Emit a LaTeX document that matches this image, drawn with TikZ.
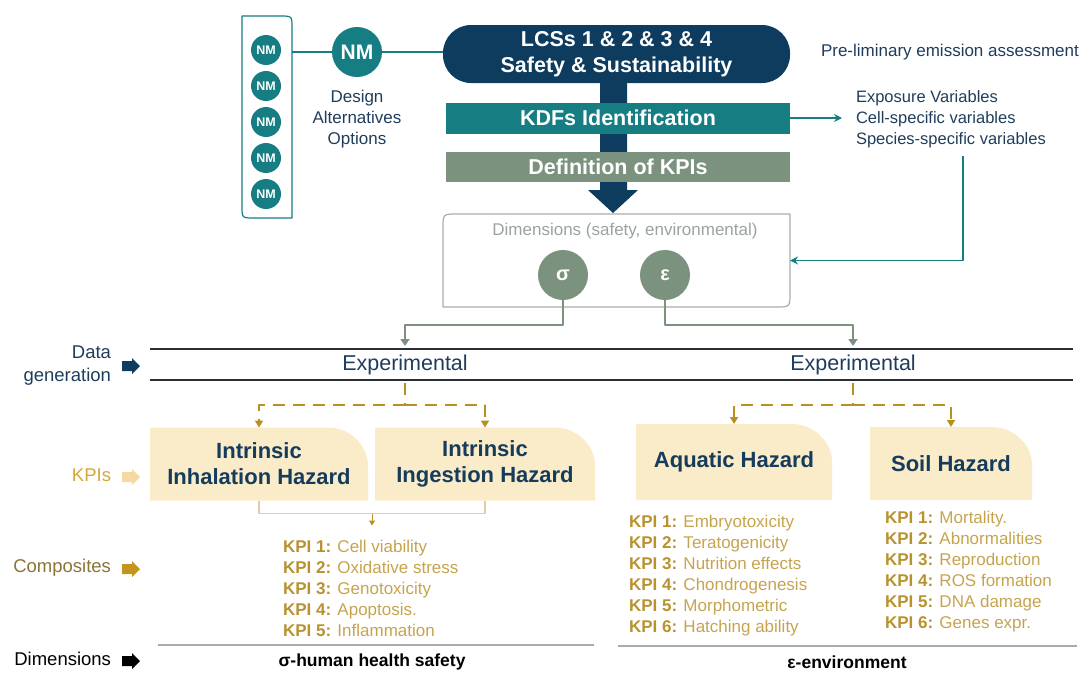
\documentclass[tikz,border=0pt]{standalone}
\usepackage{fontspec}
\setmainfont{Liberation Sans}
\usetikzlibrary{arrows.meta,backgrounds,calc}
\definecolor{navy}{HTML}{0E3C5E}
\definecolor{teal2}{HTML}{167D82}
\definecolor{sage}{HTML}{7B927F}
\definecolor{txt}{HTML}{1F3D5B}
\definecolor{haztxt}{HTML}{163C5C}
\definecolor{beige}{HTML}{FAEBC9}
\definecolor{gold}{HTML}{B8901F}
\definecolor{kpib}{HTML}{B8922F}
\definecolor{kpil}{HTML}{C6A44E}
\definecolor{linebeige}{HTML}{E2CCA8}
\definecolor{dimgrey}{HTML}{9AA39D}
\definecolor{dimline}{HTML}{A7AFA9}
\definecolor{olive}{HTML}{8A7436}
\definecolor{kpilabel}{HTML}{D2A838}
\definecolor{kpiarrow}{HTML}{F6D9A2}
\definecolor{comparrow}{HTML}{C4951C}
\definecolor{darkline}{HTML}{2B2F33}
\definecolor{greyline}{HTML}{ABABAB}
\newcommand\kp[1]{{\bfseries\color{kpib}KPI #1:}}
\newcommand\blockarrow[3]{\fill[#1] (#2,#3) ++(0,-5) -- ++(10,0) -- ++(0,-3) -- ++(8,8) -- ++(-8,8) -- ++(0,-3) -- ++(-10,0) -- cycle;}
\tikzset{
  base/.style={inner sep=0pt, outer sep=0pt},
  nmsmall/.style={circle, fill=teal2, minimum size=30pt, inner sep=0pt, text=white, font=\fontsize{12.5}{14}\selectfont\bfseries},
  bar/.style={base, minimum width=344pt, text=white, font=\fontsize{21.5}{26}\selectfont\bfseries},
  haz/.style={base, text=haztxt, align=center, font=\fontsize{22}{26}\selectfont\bfseries},
  kpis/.style={base, anchor=west, align=left, text=kpil, font=\fontsize{17}{21}\selectfont},
  lbl/.style={base, anchor=east, align=right, font=\fontsize{18.5}{23}\selectfont},
  sagearrow/.style={draw=sage, line width=2.5pt, -{Triangle[width=9pt,length=7pt]}},
  gdash/.style={draw=gold, line width=2.2pt, dash pattern=on 12pt off 8pt},
  gtip/.style={-{Triangle[width=8pt,length=7pt]}},
  tealline/.style={draw=teal2, line width=1.8pt},
}
\begin{document}
\begin{tikzpicture}[x=1pt,y=-1pt,line join=round]
\useasboundingbox (0,0) rectangle (1089,673);

% NM options box
\node[base, minimum width=50pt, minimum height=202pt] (nmbox) at (267,117) {};
\draw[teal2, line width=1.2pt] (nmbox.north west) -- ($(nmbox.north east)+(-12,0)$) .. controls (nmbox.north east) .. ($(nmbox.north east)+(0,12)$) -- (nmbox.south east) -- ($(nmbox.south west)+(12,0)$) .. controls (nmbox.south west) .. ($(nmbox.south west)+(0,-12)$) -- cycle;
\node[nmsmall] (nm1) at (266,50) {NM};
\node[nmsmall] (nm2) at (266,86) {NM};
\node[nmsmall] (nm3) at (266,122) {NM};
\node[nmsmall] (nm4) at (266,158) {NM};
\node[nmsmall] (nm5) at (266,194) {NM};

\node[circle, fill=teal2, minimum size=50pt, inner sep=0pt, text=white, font=\fontsize{21}{24}\selectfont\bfseries] (nmbig) at (357,52) {NM};
\node[base, text=txt, align=center, font=\fontsize{17}{21}\selectfont] (design) at (357,119) {Design\\Alternatives\\Options};

% main column
\node[base, fill=navy, rounded corners=28pt, minimum width=347pt, minimum height=58pt, text=white, align=center, font=\fontsize{21.5}{26}\selectfont\bfseries] (lcs) at (616.5,54) {LCSs 1 \& 2 \& 3 \& 4\\Safety \& Sustainability};
\draw[tealline] (nmbox.east |- nmbig) -- (nmbig.west);
\draw[tealline] (nmbig.east) -- (lcs.west |- nmbig);

\coordinate (tip) at (613,213);
\fill[navy] (600,80) -- (627,80) -- (627,190) -- (638,190) -- (tip) -- (588,190) -- (600,190) -- cycle;

\node[bar, fill=teal2, minimum height=31pt] (kdf) at (618,118) {KDFs Identification};
\node[bar, fill=sage, minimum height=30pt] (defk) at (618,167) {Definition of KPIs};

\node[base, anchor=west, text=txt, font=\fontsize{17}{20}\selectfont] (prelim) at (821,52) {Pre-liminary emission assessment};
\node[base, anchor=west, align=left, text=txt, font=\fontsize{16.5}{21}\selectfont] (expo) at (856,119) {Exposure Variables\\Cell-specific variables\\Species-specific variables};
\draw[tealline, -{Stealth[length=8pt,width=8pt]}] (kdf.east) -- ([xshift=-14pt]expo.west |- kdf.east);

% dimensions box
\node[base, minimum width=347pt, minimum height=93pt] (dimbox) at (616.5,260.5) {};
\draw[dimline, line width=1.2pt] ($(dimbox.north west)+(0,14)$) .. controls (dimbox.north west) .. ($(dimbox.north west)+(14,0)$) -- (dimbox.north east) -- ($(dimbox.south east)+(0,-14)$) .. controls (dimbox.south east) .. ($(dimbox.south east)+(-14,0)$) -- (dimbox.south west) -- cycle;
\node[base, text=dimgrey, font=\fontsize{17}{20}\selectfont] (dimtitle) at (625,231) {Dimensions (safety, environmental)};
\node[circle, fill=sage, minimum size=50pt, inner sep=0pt, text=white, font=\fontsize{20}{24}\selectfont\bfseries] (sig) at (563,275) {σ};
\node[circle, fill=sage, minimum size=50pt, inner sep=0pt, text=white, font=\fontsize{20}{24}\selectfont\bfseries] (eps) at (665,275) {ε};

\coordinate (ebend) at (963,156);
\draw[tealline, -{Stealth[length=8pt,width=8pt]}] (ebend) |- (dimbox.east);

% data generation band
\coordinate (L1) at (150,349);
\coordinate (L2) at (1073,349);
\coordinate (L3) at (150,380);
\coordinate (L4) at (1073,380);
\draw[darkline, line width=1.5pt] (L1) -- (L2);
\draw[darkline, line width=1.5pt] (L3) -- (L4);
\node[base, text=txt, font=\fontsize{21.5}{24}\selectfont] (exp1) at (405,365) {Experimental};
\node[base, text=txt, font=\fontsize{21.5}{24}\selectfont] (exp2) at (853,365) {Experimental};

\draw[sagearrow] (sig.south) -- ++(0,25) -| ([yshift=3pt]exp1 |- L1);
\draw[sagearrow] (eps.south) -- ++(0,25) -| ([yshift=3pt]exp2 |- L1);

% hazard boxes
\node[haz, minimum width=218pt, minimum height=73pt] (inh) at (259,464) {Intrinsic\\Inhalation Hazard};
\node[haz, minimum width=220pt, minimum height=73pt] (ing) at (485,464) {Intrinsic\\Ingestion Hazard};
\node[haz, minimum width=196pt, minimum height=76pt] (aq) at (734,462) {Aquatic Hazard};
\node[haz, minimum width=162pt, minimum height=73pt] (soil) at (951,463.5) {Soil Hazard};
\begin{scope}[on background layer]
\foreach \n in {inh,ing,aq,soil}{
  \fill[beige] (\n.south west) -- (\n.north west) -- ($(\n.north east)+(-40,0)$) .. controls ($(\n.north east)+(-18,0)$) and ($(\n.north east)+(0,18)$) .. ($(\n.north east)+(0,38)$) -- (\n.south east) -- cycle;
}
\end{scope}

% dashed gold connectors
\draw[gdash] ([yshift=-3pt]exp1 |- L3) -- ++(0,22) coordinate (j1);
\draw[gdash, gtip] (j1) -| (inh.north);
\draw[gdash, gtip] (j1) -| (ing.north);
\draw[gdash] ([yshift=-3pt]exp2 |- L3) -- ++(0,22) coordinate (j2);
\draw[gdash, gtip] (j2) -| (aq.north);
\draw[gdash, gtip] (j2) -| (soil.north);

% bracket under human hazards
\draw[linebeige, line width=1.3pt] (inh.south) -- ++(0,13) -| (ing.south);
\coordinate (bm) at ($(inh.south)!0.5!(ing.south)+(0,13)$);
\draw[gold, line width=1pt, -{Triangle[width=6pt,length=5pt]}] (bm) -- ++(0,12);

% KPI lists
\node[kpis] (kl) at (283,588) {\kp{1} Cell viability\\\kp{2} Oxidative stress\\\kp{3} Genotoxicity\\\kp{4} Apoptosis.\\\kp{5} Inflammation};
\node[kpis] (ka) at (629,575.5) {\kp{1} Embryotoxicity\\\kp{2} Teratogenicity\\\kp{3} Nutrition effects\\\kp{4} Chondrogenesis\\\kp{5} Morphometric\\\kp{6} Hatching ability};
\node[kpis] (ks) at (885,572) {\kp{1} Mortality.\\\kp{2} Abnormalities\\\kp{3} Reproduction\\\kp{4} ROS formation\\\kp{5} DNA damage\\\kp{6} Genes expr.};

% dimension footer
\coordinate (g1) at (158,645);
\coordinate (g2) at (594,645);
\coordinate (g3) at (618,646);
\coordinate (g4) at (1077,646);
\draw[greyline, line width=1.5pt] (g1) -- (g2);
\draw[greyline, line width=1.5pt] (g3) -- (g4);
\node[base, font=\fontsize{17.5}{20}\selectfont\bfseries] (dh) at (372,662) {σ-human health safety};
\node[base, font=\fontsize{17.5}{20}\selectfont\bfseries] (de) at (847,662) {ε-environment};

% left legend
\node[lbl, text=txt] (lg1) at (111,366) {Data\\generation};
\node[lbl, text=kpilabel] (lg2) at (111,475) {KPIs};
\node[lbl, text=olive] (lg3) at (111,568) {Composites};
\node[lbl, text=black] (lg4) at (111,659) {Dimensions};
\blockarrow{navy}{122}{366}
\blockarrow{kpiarrow}{122}{477}
\blockarrow{comparrow}{122}{569}
\blockarrow{black}{122}{661}
\end{tikzpicture}
\end{document}
